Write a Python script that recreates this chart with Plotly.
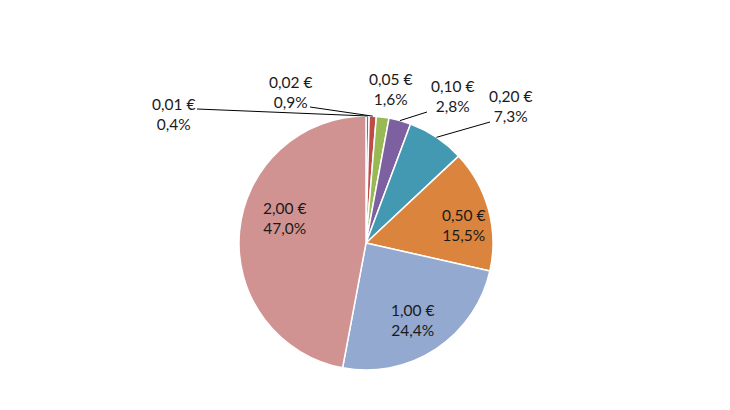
import math

import plotly.graph_objects as go

coins = ["0,01 €", "0,02 €", "0,05 €", "0,10 €", "0,20 €", "0,50 €", "1,00 €", "2,00 €"]
shares = [0.4, 0.9, 1.6, 2.8, 7.3, 15.5, 24.4, 47.0]
colors = ["#4A7EBB", "#BE4B48", "#98B954", "#7D60A0",
          "#4299B1", "#DB843D", "#93A9CF", "#D19392"]

W, H = 730, 410
CX, CY, R = 366, 243, 127
FONT = dict(family="Lato, 'Open Sans', sans-serif", size=15.5, color="#1a1a1a")

texts = [c + "<br>" + f"{s:.1f}%".replace(".", ",") for c, s in zip(coins, shares)]

fig = go.Figure(go.Pie(
    labels=coins,
    values=shares,
    text=texts,
    textinfo="none",
    sort=False,
    direction="clockwise",
    rotation=0,
    marker=dict(colors=colors, line=dict(color="white", width=1.5)),
    domain=dict(x=[(CX - R) / W, (CX + R) / W],
                y=[(H - CY - R) / H, (H - CY + R) / H]),
    showlegend=False,
    hoverinfo="label+text",
))

# label centre and leader line start, in pixels
label_spots = [
    ((173, 114), (197, 109)),
    ((290, 92), (310, 107)),
    ((390, 89), None),
    ((453, 96), (427, 112)),
    ((510, 106), (490, 122)),
    ((463, 225), None),
    ((412, 320), None),
    ((284, 218), None),
]

total = sum(shares)
cum = 0
for i, s in enumerate(shares):
    mid = (cum + s / 2) / total * 2 * math.pi
    cum += s
    (lx, ly), end = label_spots[i]
    fig.add_annotation(
        x=lx / W, y=1 - ly / H, xref="paper", yref="paper",
        xanchor="center", yanchor="middle",
        text=texts[i], showarrow=False, font=FONT, align="center",
    )
    if end is not None:
        ex = CX + R * math.sin(mid)
        ey = CY - R * math.cos(mid)
        fig.add_shape(
            type="line", xref="paper", yref="paper",
            x0=end[0] / W, y0=1 - end[1] / H, x1=ex / W, y1=1 - ey / H,
            line=dict(color="black", width=1),
        )

fig.update_layout(
    width=W, height=H,
    margin=dict(l=0, r=0, t=0, b=0),
    paper_bgcolor="white",
    plot_bgcolor="white",
)

# drop the default page margin so the figure sits at the window corner
fig.write_html(
    "out.html",
    config={"displayModeBar": False},
    post_script="document.body.style.margin='0';",
)
